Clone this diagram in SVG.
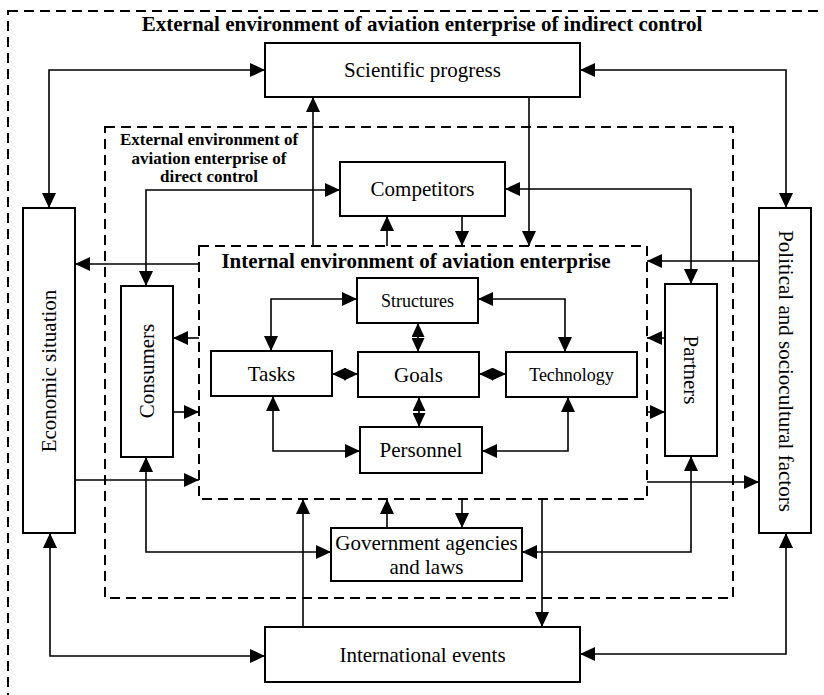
<svg xmlns="http://www.w3.org/2000/svg" width="824" height="695" viewBox="0 0 824 695">
  <style>
    .zone { fill: none; stroke: #000; stroke-width: 2; stroke-dasharray: 10 6; }
    .box { fill: #fff; stroke: #000; stroke-width: 2; }
    .lbl { font-family: "Liberation Serif", "Times New Roman", serif; font-size: 21px; fill: #000; text-anchor: middle; }
    .sm { font-size: 18px; }
    .hdr { font-family: "Liberation Serif", "Times New Roman", serif; font-weight: bold; fill: #000; text-anchor: middle; }
    #connectors path { fill: none; stroke: #000; stroke-width: 1.6; }
    .both { marker-start: url(#ah); marker-end: url(#ah); }
    .one { marker-end: url(#ah); }
    .dia { marker-start: url(#ahs); marker-end: url(#ahs); }
  </style>
  <defs>
    <marker id="ah" markerUnits="userSpaceOnUse" markerWidth="15" markerHeight="14" refX="15" refY="7" orient="auto-start-reverse">
      <path d="M0,0 L15,7 L0,14 z" fill="#000"/>
    </marker>
    <marker id="ahs" markerUnits="userSpaceOnUse" markerWidth="14" markerHeight="13" refX="14" refY="6.5" orient="auto-start-reverse">
      <path d="M0,0 L14,6.5 L0,13 z" fill="#000"/>
    </marker>
  </defs>

  <rect width="824" height="695" fill="#fff"/>

  <!-- environment zones -->
  <g id="zone-indirect">
    <rect class="zone" x="8" y="11" width="830" height="700"/>
    <text class="hdr" x="422" y="31" font-size="21">External environment of aviation enterprise of indirect control</text>
  </g>
  <g id="zone-direct">
    <rect class="zone" x="105" y="127" width="628" height="471"/>
    <text class="hdr" font-size="17" x="209"><tspan x="209" y="145">External environment of</tspan><tspan x="209" y="163.5">aviation enterprise of</tspan><tspan x="209" y="182">direct control</tspan></text>
  </g>
  <g id="zone-internal">
    <rect class="zone" x="199" y="246" width="448" height="253"/>
    <text class="hdr" x="416" y="268" font-size="21">Internal environment of aviation enterprise</text>
  </g>

  <!-- connectors -->
  <g id="connectors">
    <path class="both" d="M265,70 H49 V208"/>
    <path class="both" d="M580,70 H786 V208"/>
    <path class="one" d="M313,246 V97"/>
    <path class="one" d="M529,97 V246"/>
    <path class="one" d="M462,216 V246"/>
    <path class="one" d="M387,246 V216"/>
    <path class="both" d="M340,190 H146 V286"/>
    <path class="both" d="M505,189 H691 V284"/>
    <path class="one" d="M199,264 H75"/>
    <path class="one" d="M759,261 H647"/>
    <path class="one" d="M199,338 H173"/>
    <path class="one" d="M173,412 H199"/>
    <path class="one" d="M665,338 H647"/>
    <path class="one" d="M647,412 H665"/>
    <path class="one" d="M75,480 H199"/>
    <path class="one" d="M647,482 H759"/>
    <path class="one" d="M462,499 V528"/>
    <path class="one" d="M387,528 V499"/>
    <path class="one" d="M303,627 V499"/>
    <path class="one" d="M542,499 V627"/>
    <path class="both" d="M146,457 V552 H331"/>
    <path class="both" d="M691,456 V552 H522"/>
    <path class="both" d="M50,533 V656 H265"/>
    <path class="both" d="M786,533 V654 H580"/>
    <path class="both" d="M357,299 H271 V351"/>
    <path class="both" d="M478,299 H565 V352"/>
    <path class="both" d="M273,396 V451 H360"/>
    <path class="both" d="M568,397 V451 H482"/>
    <path class="dia" d="M418,323 V352"/>
    <path class="dia" d="M332,374 H358"/>
    <path class="dia" d="M479,374 H506"/>
    <path class="dia" d="M419,397 V427"/>
  </g>

  <!-- nodes -->
  <g id="scientific-progress">
    <rect class="box" x="265" y="43" width="315" height="54"/>
    <text class="lbl" x="422.5" y="77">Scientific progress</text>
  </g>
  <g id="competitors">
    <rect class="box" x="340" y="162" width="165" height="54"/>
    <text class="lbl" x="422.5" y="196">Competitors</text>
  </g>
  <g id="economic-situation">
    <rect class="box" x="23" y="208" width="52" height="325"/>
    <text class="lbl" transform="translate(49,371) rotate(-90)" y="7">Economic situation</text>
  </g>
  <g id="political-factors">
    <rect class="box" x="759" y="208" width="52" height="325"/>
    <text class="lbl" transform="translate(786,371) rotate(90)" y="7">Political and sociocultural factors</text>
  </g>
  <g id="consumers">
    <rect class="box" x="121" y="286" width="52" height="171"/>
    <text class="lbl" transform="translate(147,371) rotate(-90)" y="7">Consumers</text>
  </g>
  <g id="partners">
    <rect class="box" x="665" y="284" width="52" height="172"/>
    <text class="lbl" transform="translate(691,370) rotate(90)" y="7">Partners</text>
  </g>
  <g id="structures">
    <rect class="box" x="357" y="278" width="121" height="45"/>
    <text class="lbl sm" x="417.5" y="307">Structures</text>
  </g>
  <g id="tasks">
    <rect class="box" x="211" y="351" width="121" height="45"/>
    <text class="lbl" x="271.5" y="381">Tasks</text>
  </g>
  <g id="goals">
    <rect class="box" x="358" y="352" width="121" height="45"/>
    <text class="lbl" x="418.5" y="382">Goals</text>
  </g>
  <g id="technology">
    <rect class="box" x="506" y="352" width="131" height="45"/>
    <text class="lbl sm" x="571.5" y="381">Technology</text>
  </g>
  <g id="personnel">
    <rect class="box" x="360" y="427" width="122" height="46"/>
    <text class="lbl" x="421" y="457">Personnel</text>
  </g>
  <g id="government">
    <rect class="box" x="331" y="528" width="191" height="53"/>
    <text class="lbl"><tspan x="426.5" y="550">Government agencies</tspan><tspan x="426.5" y="574">and laws</tspan></text>
  </g>
  <g id="international-events">
    <rect class="box" x="265" y="627" width="315" height="55"/>
    <text class="lbl" x="422.5" y="662">International events</text>
  </g>
</svg>
